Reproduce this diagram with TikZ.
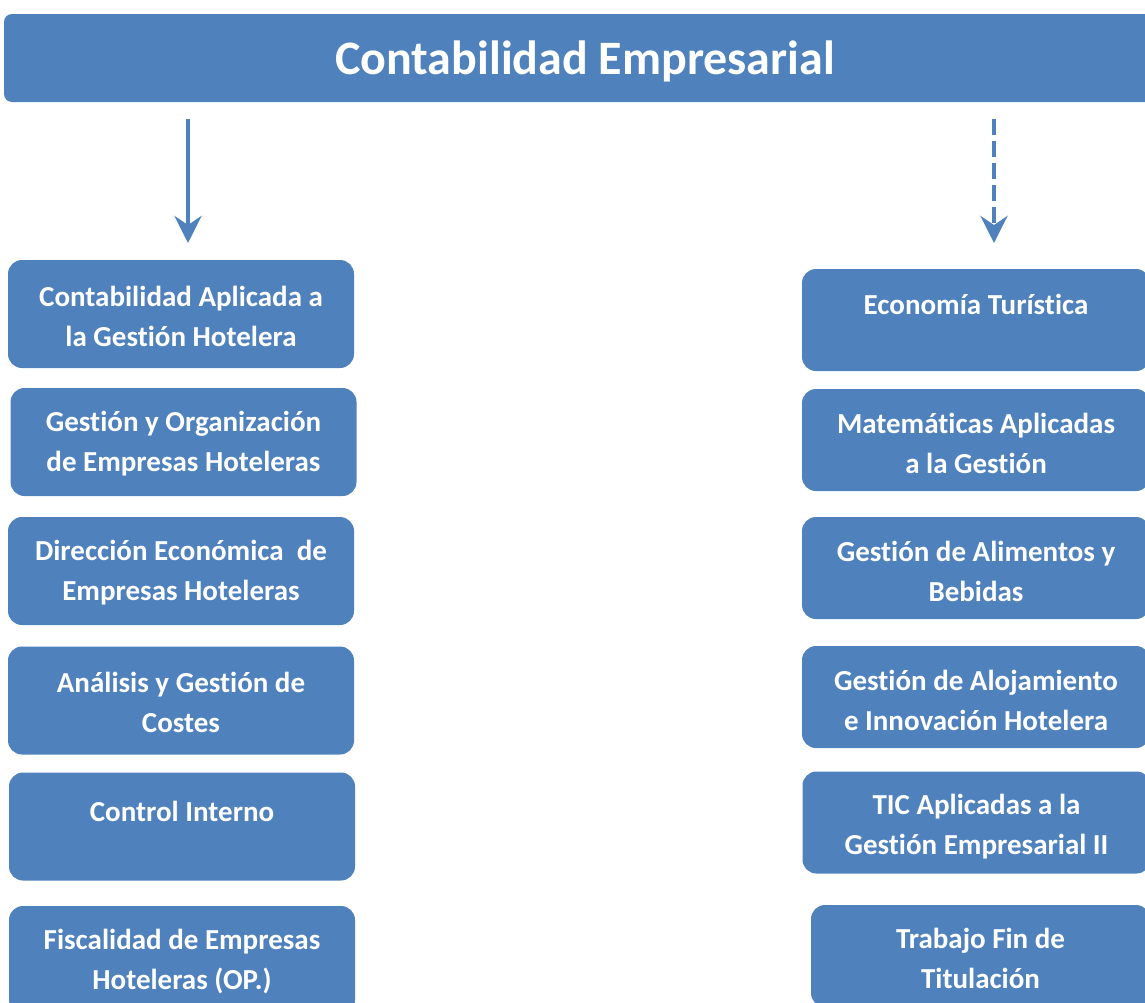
\documentclass[tikz,border=0pt]{standalone}
\usepackage{fontspec}
\setmainfont[Ligatures={NoCommon,NoContextual,NoRare},Contextuals={NoAlternate}]{Carlito}
\usetikzlibrary{arrows.meta}
\definecolor{obl}{HTML}{4F81BD}
\newcommand\zk{\kern0pt }
\begin{document}
\begin{tikzpicture}[x=1pt,y=-1pt,
  box/.style={fill=obl, rounded corners=14pt, inner sep=0pt, outer sep=0pt},
  txt/.style={inner sep=0pt, text=white, font=\bfseries\fontsize{29}{40}\selectfont, align=center},
  lbox/.style={box, minimum width=346pt, minimum height=108pt},
  rbox/.style={box, minimum width=348pt, minimum height=102pt},
  banner/.style={fill=obl, rounded corners=8pt, inner sep=0pt, outer sep=0pt,
    minimum width=1162pt, minimum height=88pt},
  ttl/.style={inner sep=0pt, text=white, font=\bfseries\fontsize{48}{58}\selectfont},
  arr/.style={draw=obl, line width=4.5pt, -{Stealth[length=27pt,width=27pt,inset=9pt]}},
  darr/.style={arr, dash pattern=on 16pt off 6pt}
]
\useasboundingbox (0,0) rectangle (1145,1002);
\clip (0,0) rectangle (1145,1002);
\node[banner] (title) at (585,58) {};
\node[ttl] (titletext) at ([yshift=-3pt]title.center) {Contabilidad Empresarial};

\coordinate (la1) at (188,119);
\coordinate (la2) at (188,243);
\coordinate (ra1) at (994,119);
\coordinate (ra2) at (994,243);
\draw[arr] (la1) -- (la2);
\draw[darr] (ra1) -- (ra2);

\node[lbox] (l1) at (181,314) {};
\node[lbox] (l2) at (183.5,442) {};
\node[lbox] (l3) at (181,571) {};
\node[lbox] (l4) at (181,700.5) {};
\node[lbox] (l5) at (182,826.5) {};
\node[lbox] (l6) at (182,960) {};
\node[rbox] (r1) at (976,320) {};
\node[rbox] (r2) at (976,440) {};
\node[rbox] (r3) at (976,568) {};
\node[rbox] (r4) at (976,697) {};
\node[rbox] (r5) at (976.5,822.5) {};
\node[rbox, minimum width=339pt] (r6) at (980.5,956) {};

\node[txt] (l1t) at ([yshift=-2pt]l1.center) {Contabilidad Aplicada a\\la Gest\zk ión Hotelera};
\node[txt] (l2t) at ([yshift=-2pt]l2.center) {Gest\zk ión y Organización\\de Empresas Hoteleras};
\node[txt] (l3t) at ([yshift=-2pt]l3.center) {Dirección Económica~ de\\Empresas Hoteleras};
\node[txt] (l4t) at ([yshift=-2pt]l4.center) {Análisis y Gest\zk ión de\\Costes};
\node[txt] (l5t) at ([yshift=-5pt]l5.center) {Control Interno\\\mbox{}};
\node[txt] (l6t) at ([yshift=-2pt]l6.center) {Fiscalidad de Empresas\\Hoteleras (OP.)};
\node[txt] (r1t) at ([yshift=-4pt]r1.center) {Economía Turíst\zk ica\\\mbox{}};
\node[txt] (r2t) at ([yshift=-3pt]r2.center) {Matemát\zk icas Aplicadas\\a la Gest\zk ión};
\node[txt] (r3t) at ([yshift=-3pt]r3.center) {Gest\zk ión de Alimentos y\\Bebidas};
\node[txt] (r4t) at ([yshift=-3pt]r4.center) {Gest\zk ión de Alojamiento\\e Innovación Hotelera};
\node[txt] (r5t) at ([yshift=-4pt]r5.center) {TIC Aplicadas a la\\Gest\zk ión Empresarial II};
\node[txt] (r6t) at ([yshift=-2pt]r6.center) {Trabajo Fin de\\Titulación};
\end{tikzpicture}
\end{document}
